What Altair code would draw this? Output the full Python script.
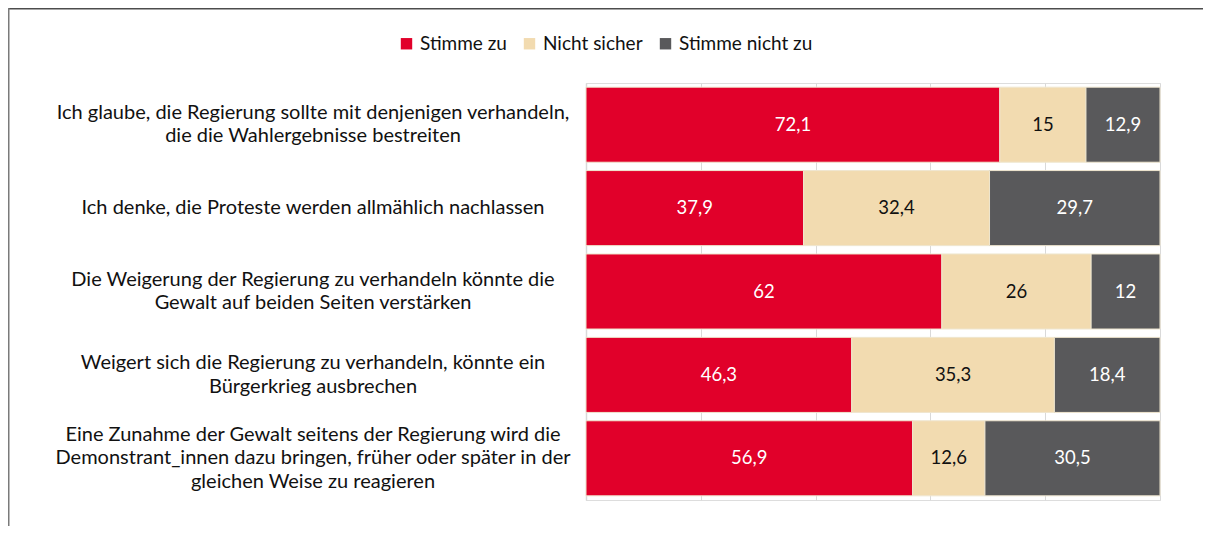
import altair as alt
import pandas as pd

statements = [
    "Ich glaube, die Regierung sollte mit denjenigen verhandeln,|die die Wahlergebnisse bestreiten",
    "Ich denke, die Proteste werden allmählich nachlassen",
    "Die Weigerung der Regierung zu verhandeln könnte die|Gewalt auf beiden Seiten verstärken",
    "Weigert sich die Regierung zu verhandeln, könnte ein|Bürgerkrieg ausbrechen",
    "Eine Zunahme der Gewalt seitens der Regierung wird die|Demonstrant_innen dazu bringen, früher oder später in der|gleichen Weise zu reagieren",
]
series = ["Stimme zu", "Nicht sicher", "Stimme nicht zu"]
stimme_zu = [72.1, 37.9, 62, 46.3, 56.9]
nicht_sicher = [15, 32.4, 26, 35.3, 12.6]
stimme_nicht_zu = [12.9, 29.7, 12, 18.4, 30.5]
colors = ["#e1002a", "#f2dbb0", "#59595b"]
text_colors = ["#ffffff", "#111111", "#ffffff"]

rows = []
for i, s in enumerate(statements):
    for j, (name, vals) in enumerate(zip(series, [stimme_zu, nicht_sicher, stimme_nicht_zu])):
        v = vals[i]
        rows.append({
            "statement": s,
            "series": name,
            "order": j,
            "value": v,
            "label": f"{v:g}".replace(".", ","),
        })
df = pd.DataFrame(rows)
cat_df = pd.DataFrame({"statement": statements})

FONT = "Lato"
LH = 23.5

y_scale = alt.Scale(paddingInner=0.1, paddingOuter=0.05)

y_enc = alt.Y(
    "statement:N",
    sort=statements,
    title=None,
    scale=y_scale,
    axis=alt.Axis(
        labels=False,
        ticks=False,
        domain=True,
        domainColor="#d9d9d9",
        domainWidth=1.5,
        grid=False,
    ),
)

bars = alt.Chart(df).mark_bar(stroke="#efe6cf", strokeWidth=1).encode(
    y=y_enc,
    x=alt.X(
        "value:Q",
        stack="normalize",
        title=None,
        scale=alt.Scale(domain=[0, 1], nice=False),
        axis=alt.Axis(
            values=[0, 0.2, 0.4, 0.6, 0.8, 1.0],
            labels=False,
            ticks=False,
            domain=False,
            grid=True,
            gridColor="#d9d9d9",
            gridWidth=1,
        ),
    ),
    color=alt.Color(
        "series:N",
        sort=series,
        scale=alt.Scale(domain=series, range=colors),
        legend=alt.Legend(
            title=None,
            orient="none",
            direction="horizontal",
            legendX=-189,
            legendY=-49,
            symbolType="square",
            symbolSize=130,
            symbolStrokeWidth=0,
            labelFont=FONT,
            labelFontSize=19,
            labelColor="#111111",
            columnPadding=13,
            labelOffset=4,
            padding=0,
        ),
    ),
    order=alt.Order("order:Q"),
)

cat_base = alt.Chart(cat_df).transform_calculate(
    nlines="length(split(datum.statement, '|'))"
)


def cat_layer(n):
    return cat_base.transform_filter(f"datum.nlines == {n}").mark_text(
        font=FONT, fontSize=20, lineHeight=LH, lineBreak="|",
        align="center", baseline="middle", color="#111111",
        dy=-(n - 1) * LH / 2,
    ).encode(
        y=alt.Y("statement:N", sort=statements),
        x=alt.value(-273),
        text="statement:N",
    )


texts = alt.Chart(df).transform_stack(
    stack="value", as_=["v0", "v1"], groupby=["statement"], sort=[alt.SortField("order")], offset="normalize"
).transform_calculate(
    mid="(datum.v0 + datum.v1) / 2"
).mark_text(font=FONT, fontSize=18.5, baseline="middle").encode(
    y=alt.Y("statement:N", sort=statements),
    x=alt.X("mid:Q"),
    text="label:N",
    color=alt.Color("series:N", scale=alt.Scale(domain=series, range=text_colors), legend=None),
)

border_df = pd.DataFrame({"k": [0]})
top_border = alt.Chart(border_df).mark_rule(color="#4d4d4d", strokeWidth=1.5).encode(
    x=alt.value(-577), x2=alt.value(617), y=alt.value(-74.25)
)
left_border = alt.Chart(border_df).mark_rule(color="#7a7a7a", strokeWidth=1.5).encode(
    x=alt.value(-577.25), y=alt.value(-75), y2=alt.value(443)
)

chart = alt.layer(
    bars, texts, cat_layer(1), cat_layer(2), cat_layer(3), top_border, left_border
).resolve_scale(
    color="independent"
).properties(
    width=574,
    height=417,
    autosize=alt.AutoSizeParams(type="none"),
    padding={"left": 578, "top": 75, "right": 43, "bottom": 26},
).configure_view(stroke=None).configure(background="white")

chart.save("out.html", embed_options={"renderer": "svg", "actions": False})
